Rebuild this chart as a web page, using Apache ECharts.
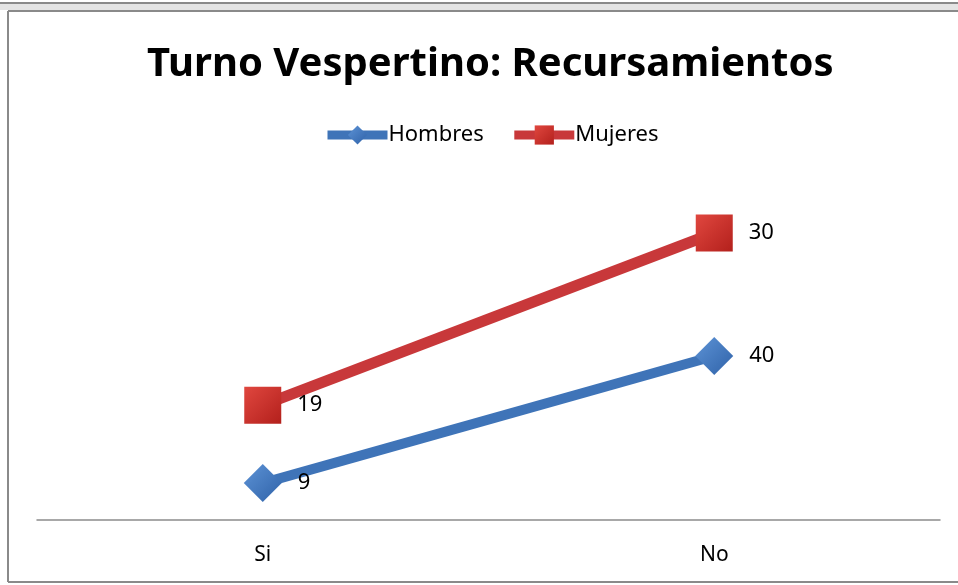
<!DOCTYPE html>
<html>
<head>
<meta charset="utf-8">
<script src="https://cdn.jsdelivr.net/npm/echarts@6/dist/echarts.min.js"></script>
<style>
  html, body { margin: 0; padding: 0; background: #fff; }
  #chart { width: 958px; height: 585px; }
</style>
</head>
<body>
<div id="chart"></div>
<script>
  // datos
  var categorias = ['Si', 'No'];
  var hombres = [9, 40];
  var mujeres = [19, 30];

  var chart = echarts.init(document.getElementById('chart'));

  var azul = new echarts.graphic.LinearGradient(0, 0, 1, 1, [
    { offset: 0, color: '#5d93d6' },
    { offset: 1, color: '#2f62a8' }
  ]);
  var rojo = new echarts.graphic.LinearGradient(0, 0, 1, 1, [
    { offset: 0, color: '#e0473f' },
    { offset: 1, color: '#b3201c' }
  ]);

  chart.setOption({
    backgroundColor: '#fff',
    animation: false,
    title: {
      text: 'Turno Vespertino: Recursamientos',
      left: 142,
      top: 40,
      textStyle: {
        fontFamily: 'Noto Sans',
        fontWeight: 'bold',
        fontSize: 40,
        color: '#000'
      }
    },
    legend: {
      top: 119,
      left: 318,
      itemWidth: 60,
      itemHeight: 24,
      itemGap: 26,
      lineStyle: { width: 9 },
      textStyle: { fontFamily: 'Noto Sans', fontSize: 22, color: '#000', padding: [0, 0, 0, -4] },
      data: ['Hombres', 'Mujeres']
    },
    grid: { left: 37, right: 18, top: 192, bottom: 65 },
    xAxis: {
      type: 'category',
      data: categorias,
      axisLine: { lineStyle: { color: '#8c8c8c', width: 1.5 } },
      axisTick: { show: false },
      axisLabel: { fontFamily: 'Noto Sans', fontSize: 21, color: '#000', margin: 25 }
    },
    yAxis: {
      type: 'value',
      min: 0,
      max: 80,
      show: false,
      splitLine: { show: false }
    },
    series: [
      {
        name: 'Hombres',
        type: 'line',
        stack: 'total',
        data: hombres,
        symbol: 'diamond',
        symbolSize: 38,
        lineStyle: { color: '#3f74b8', width: 10 },
        itemStyle: { color: azul },
        label: {
          show: true,
          position: 'right',
          distance: 16,
          fontFamily: 'Noto Sans',
          fontSize: 22,
          color: '#000'
        }
      },
      {
        name: 'Mujeres',
        type: 'line',
        stack: 'total',
        data: mujeres,
        symbol: 'rect',
        symbolSize: 37,
        lineStyle: { color: '#c8383a', width: 11 },
        itemStyle: { color: rojo },
        label: {
          show: true,
          position: 'right',
          distance: 16,
          fontFamily: 'Noto Sans',
          fontSize: 22,
          color: '#000'
        }
      }
    ],
    graphic: [
      { type: 'rect', shape: { x: 0, y: 3, width: 958, height: 7 }, style: { fill: '#e4e4e4' } },
      { type: 'line', shape: { x1: 0, y1: 3, x2: 958, y2: 3 }, style: { stroke: '#8a8a8a', lineWidth: 2 } },
      { type: 'line', shape: { x1: 8, y1: 11, x2: 958, y2: 11 }, style: { stroke: '#8a8a8a', lineWidth: 2 } },
      { type: 'line', shape: { x1: 8, y1: 11, x2: 8, y2: 582 }, style: { stroke: '#8a8a8a', lineWidth: 2 } },
      { type: 'line', shape: { x1: 8, y1: 582, x2: 958, y2: 582 }, style: { stroke: '#8a8a8a', lineWidth: 2 } }
    ]
  });
</script>
</body>
</html>
